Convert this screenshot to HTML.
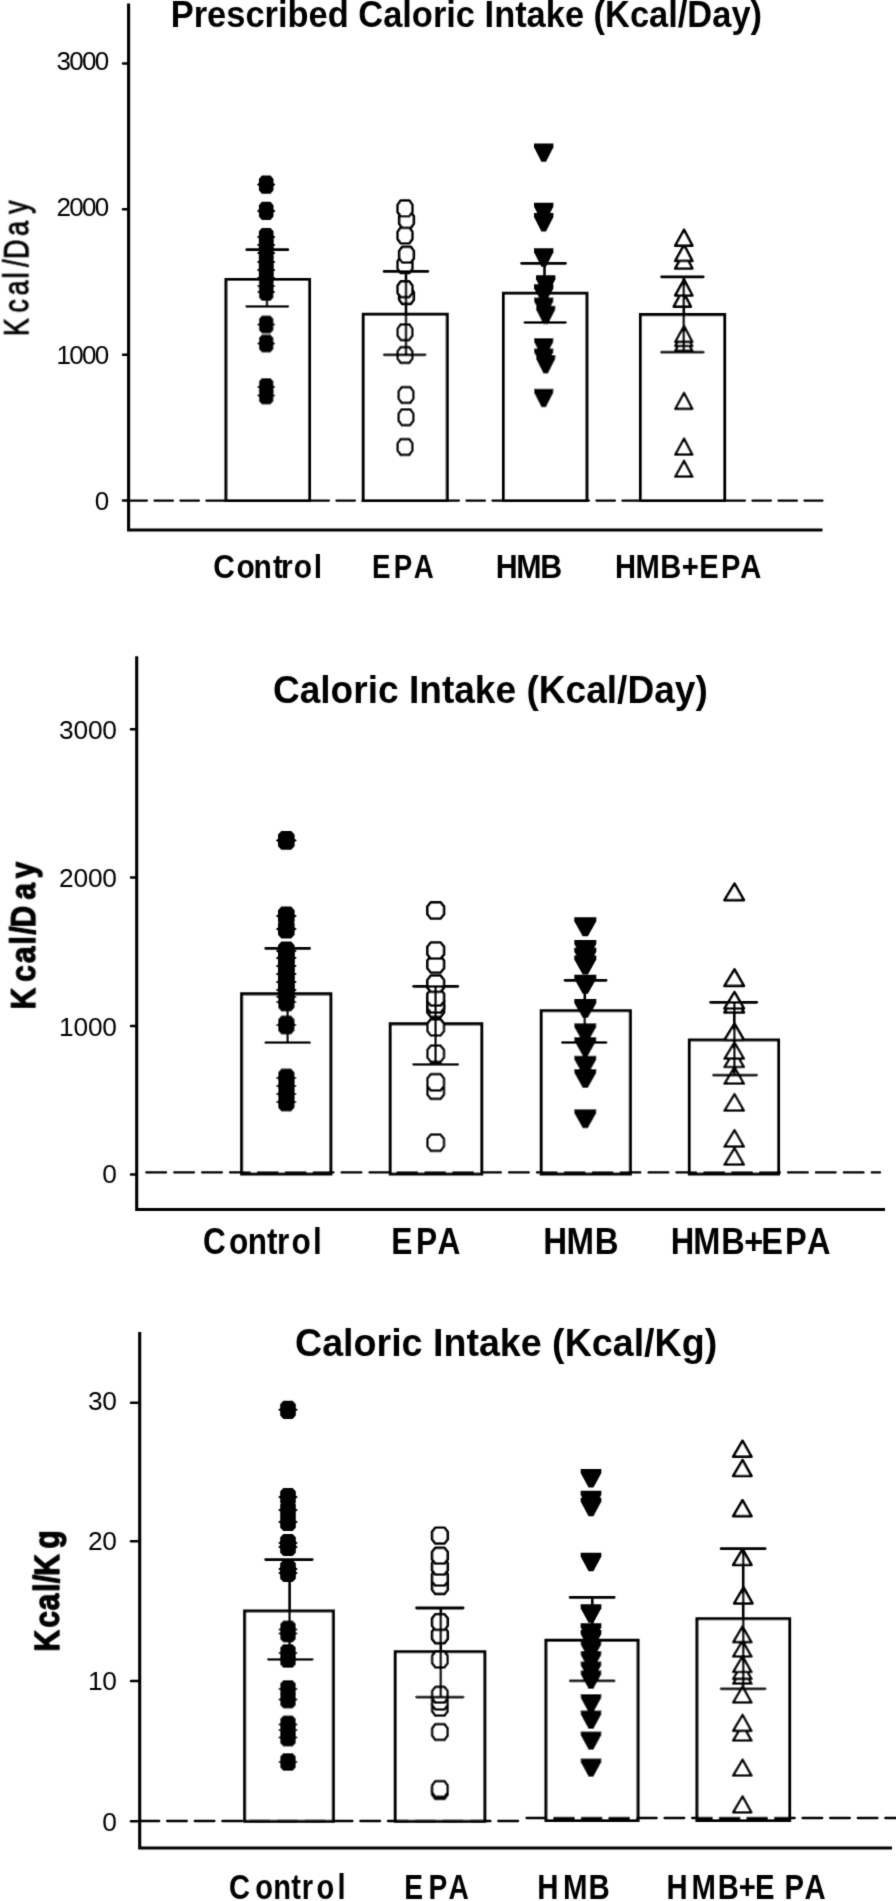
<!DOCTYPE html>
<html lang="en">
<head>
<meta charset="utf-8">
<title>Caloric intake charts</title>
<style>
html,body{margin:0;padding:0;background:#fff;}
body{width:896px;height:1901px;overflow:hidden;}
svg{display:block;}
svg text{font-family:'Liberation Sans', Arial, Helvetica, sans-serif;fill:#000;}
</style>
</head>
<body>
<svg width="896" height="1901" viewBox="0 0 896 1901">
<defs><filter id="soft" x="0" y="0" width="896" height="1901" filterUnits="userSpaceOnUse"><feConvolveMatrix order="3" kernelMatrix="0.0169 0.0962 0.0169 0.0962 0.5476 0.0962 0.0169 0.0962 0.0169" edgeMode="duplicate" preserveAlpha="false"/></filter></defs>
<rect width="896" height="1901" fill="#fff"/>
<g filter="url(#soft)">
<path d="M226.00 500.50V279.50H309.50V500.50Z" fill="#fff" stroke="#000" stroke-width="3.1" stroke-linejoin="miter"/>
<path d="M363.30 500.50V314.20H447.20V500.50Z" fill="#fff" stroke="#000" stroke-width="3.1" stroke-linejoin="miter"/>
<path d="M503.50 500.50V293.30H586.90V500.50Z" fill="#fff" stroke="#000" stroke-width="3.1" stroke-linejoin="miter"/>
<path d="M640.50 500.50V314.60H724.60V500.50Z" fill="#fff" stroke="#000" stroke-width="3.1" stroke-linejoin="miter"/>
<line x1="128.45" y1="500.60" x2="822.50" y2="500.60" stroke="#000" stroke-width="2.3" stroke-dasharray="18.50 7.50" stroke-linecap="round"/>
<polygon points="261.89,175.48 270.51,175.48 273.50,178.97 273.50,183.05 275.53,184.60 273.50,186.15 273.50,190.23 270.51,193.72 261.89,193.72 258.90,190.23 258.90,186.15 256.87,184.60 258.90,183.05 258.90,178.97" fill="#000"/>
<polygon points="261.89,201.78 270.51,201.78 273.50,205.27 273.50,209.35 275.53,210.90 273.50,212.45 273.50,216.53 270.51,220.02 261.89,220.02 258.90,216.53 258.90,212.45 256.87,210.90 258.90,209.35 258.90,205.27" fill="#000"/>
<polygon points="261.89,227.88 270.51,227.88 273.50,231.37 273.50,235.45 275.53,237.00 273.50,238.55 273.50,242.63 270.51,246.12 261.89,246.12 258.90,242.63 258.90,238.55 256.87,237.00 258.90,235.45 258.90,231.37" fill="#000"/>
<polygon points="261.89,235.88 270.51,235.88 273.50,239.37 273.50,243.45 275.53,245.00 273.50,246.55 273.50,250.63 270.51,254.12 261.89,254.12 258.90,250.63 258.90,246.55 256.87,245.00 258.90,243.45 258.90,239.37" fill="#000"/>
<polygon points="261.89,243.88 270.51,243.88 273.50,247.37 273.50,251.45 275.53,253.00 273.50,254.55 273.50,258.63 270.51,262.12 261.89,262.12 258.90,258.63 258.90,254.55 256.87,253.00 258.90,251.45 258.90,247.37" fill="#000"/>
<polygon points="261.89,252.88 270.51,252.88 273.50,256.37 273.50,260.45 275.53,262.00 273.50,263.55 273.50,267.63 270.51,271.12 261.89,271.12 258.90,267.63 258.90,263.55 256.87,262.00 258.90,260.45 258.90,256.37" fill="#000"/>
<polygon points="261.89,260.88 270.51,260.88 273.50,264.37 273.50,268.45 275.53,270.00 273.50,271.55 273.50,275.63 270.51,279.12 261.89,279.12 258.90,275.63 258.90,271.55 256.87,270.00 258.90,268.45 258.90,264.37" fill="#000"/>
<polygon points="261.89,268.88 270.51,268.88 273.50,272.37 273.50,276.45 275.53,278.00 273.50,279.55 273.50,283.63 270.51,287.12 261.89,287.12 258.90,283.63 258.90,279.55 256.87,278.00 258.90,276.45 258.90,272.37" fill="#000"/>
<polygon points="261.89,276.88 270.51,276.88 273.50,280.37 273.50,284.45 275.53,286.00 273.50,287.55 273.50,291.63 270.51,295.12 261.89,295.12 258.90,291.63 258.90,287.55 256.87,286.00 258.90,284.45 258.90,280.37" fill="#000"/>
<polygon points="261.89,282.88 270.51,282.88 273.50,286.37 273.50,290.45 275.53,292.00 273.50,293.55 273.50,297.63 270.51,301.12 261.89,301.12 258.90,297.63 258.90,293.55 256.87,292.00 258.90,290.45 258.90,286.37" fill="#000"/>
<polygon points="261.89,315.38 270.51,315.38 273.50,318.87 273.50,322.95 275.53,324.50 273.50,326.05 273.50,330.13 270.51,333.62 261.89,333.62 258.90,330.13 258.90,326.05 256.87,324.50 258.90,322.95 258.90,318.87" fill="#000"/>
<polygon points="261.89,334.38 270.51,334.38 273.50,337.87 273.50,341.95 275.53,343.50 273.50,345.05 273.50,349.13 270.51,352.62 261.89,352.62 258.90,349.13 258.90,345.05 256.87,343.50 258.90,341.95 258.90,337.87" fill="#000"/>
<polygon points="261.89,377.88 270.51,377.88 273.50,381.37 273.50,385.45 275.53,387.00 273.50,388.55 273.50,392.63 270.51,396.12 261.89,396.12 258.90,392.63 258.90,388.55 256.87,387.00 258.90,385.45 258.90,381.37" fill="#000"/>
<polygon points="261.89,386.38 270.51,386.38 273.50,389.87 273.50,393.95 275.53,395.50 273.50,397.05 273.50,401.13 270.51,404.62 261.89,404.62 258.90,401.13 258.90,397.05 256.87,395.50 258.90,393.95 258.90,389.87" fill="#000"/>
<polygon points="400.73,439.14 409.27,439.14 412.30,443.31 412.30,450.69 409.27,454.86 400.73,454.86 397.70,450.69 397.70,443.31" fill="#fff" stroke="#000" stroke-width="2.7" stroke-linejoin="round"/>
<polygon points="401.73,409.34 410.27,409.34 413.30,413.51 413.30,420.89 410.27,425.06 401.73,425.06 398.70,420.89 398.70,413.51" fill="#fff" stroke="#000" stroke-width="2.7" stroke-linejoin="round"/>
<polygon points="401.73,387.14 410.27,387.14 413.30,391.31 413.30,398.69 410.27,402.86 401.73,402.86 398.70,398.69 398.70,391.31" fill="#fff" stroke="#000" stroke-width="2.7" stroke-linejoin="round"/>
<polygon points="400.73,347.14 409.27,347.14 412.30,351.31 412.30,358.69 409.27,362.86 400.73,362.86 397.70,358.69 397.70,351.31" fill="#fff" stroke="#000" stroke-width="2.7" stroke-linejoin="round"/>
<polygon points="400.73,324.34 409.27,324.34 412.30,328.51 412.30,335.89 409.27,340.06 400.73,340.06 397.70,335.89 397.70,328.51" fill="#fff" stroke="#000" stroke-width="2.7" stroke-linejoin="round"/>
<polygon points="402.23,288.14 410.77,288.14 413.80,292.31 413.80,299.69 410.77,303.86 402.23,303.86 399.20,299.69 399.20,292.31" fill="#fff" stroke="#000" stroke-width="2.7" stroke-linejoin="round"/>
<polygon points="400.73,281.44 409.27,281.44 412.30,285.61 412.30,292.99 409.27,297.16 400.73,297.16 397.70,292.99 397.70,285.61" fill="#fff" stroke="#000" stroke-width="2.7" stroke-linejoin="round"/>
<polygon points="400.73,257.14 409.27,257.14 412.30,261.31 412.30,268.69 409.27,272.86 400.73,272.86 397.70,268.69 397.70,261.31" fill="#fff" stroke="#000" stroke-width="2.7" stroke-linejoin="round"/>
<polygon points="402.23,246.84 410.77,246.84 413.80,251.01 413.80,258.39 410.77,262.56 402.23,262.56 399.20,258.39 399.20,251.01" fill="#fff" stroke="#000" stroke-width="2.7" stroke-linejoin="round"/>
<polygon points="400.73,227.54 409.27,227.54 412.30,231.71 412.30,239.09 409.27,243.26 400.73,243.26 397.70,239.09 397.70,231.71" fill="#fff" stroke="#000" stroke-width="2.7" stroke-linejoin="round"/>
<polygon points="402.23,212.14 410.77,212.14 413.80,216.31 413.80,223.69 410.77,227.86 402.23,227.86 399.20,223.69 399.20,216.31" fill="#fff" stroke="#000" stroke-width="2.7" stroke-linejoin="round"/>
<polygon points="400.73,200.54 409.27,200.54 412.30,204.71 412.30,212.09 409.27,216.26 400.73,216.26 397.70,212.09 397.70,204.71" fill="#fff" stroke="#000" stroke-width="2.7" stroke-linejoin="round"/>
<polygon points="534.02,143.40 553.38,143.40 553.38,147.28 545.99,161.83 541.41,161.83 534.02,147.28" fill="#000"/>
<polygon points="534.02,202.70 553.38,202.70 553.38,206.58 545.99,221.13 541.41,221.13 534.02,206.58" fill="#000"/>
<polygon points="534.02,213.00 553.38,213.00 553.38,216.88 545.99,231.43 541.41,231.43 534.02,216.88" fill="#000"/>
<polygon points="534.02,248.30 553.38,248.30 553.38,252.18 545.99,266.73 541.41,266.73 534.02,252.18" fill="#000"/>
<polygon points="536.02,275.30 555.38,275.30 555.38,279.18 547.99,293.73 543.41,293.73 536.02,279.18" fill="#000"/>
<polygon points="534.02,284.30 553.38,284.30 553.38,288.18 545.99,302.73 541.41,302.73 534.02,288.18" fill="#000"/>
<polygon points="534.02,297.50 553.38,297.50 553.38,301.38 545.99,315.93 541.41,315.93 534.02,301.38" fill="#000"/>
<polygon points="536.02,305.80 555.38,305.80 555.38,309.68 547.99,324.23 543.41,324.23 536.02,309.68" fill="#000"/>
<polygon points="534.02,338.00 553.38,338.00 553.38,341.88 545.99,356.43 541.41,356.43 534.02,341.88" fill="#000"/>
<polygon points="534.02,348.40 553.38,348.40 553.38,352.28 545.99,366.83 541.41,366.83 534.02,352.28" fill="#000"/>
<polygon points="536.02,355.00 555.38,355.00 555.38,358.88 547.99,373.43 543.41,373.43 536.02,358.88" fill="#000"/>
<polygon points="534.02,388.80 553.38,388.80 553.38,392.68 545.99,407.23 541.41,407.23 534.02,392.68" fill="#000"/>
<polygon points="675.26,476.70 692.34,476.70 684.06,460.79" fill="#fff" stroke="#000" stroke-width="2.7" stroke-linejoin="round"/>
<polygon points="675.26,454.60 692.34,454.60 684.06,438.69" fill="#fff" stroke="#000" stroke-width="2.7" stroke-linejoin="round"/>
<polygon points="675.26,408.80 692.34,408.80 684.06,392.89" fill="#fff" stroke="#000" stroke-width="2.7" stroke-linejoin="round"/>
<polygon points="675.26,350.80 692.34,350.80 684.06,334.89" fill="#fff" stroke="#000" stroke-width="2.7" stroke-linejoin="round"/>
<polygon points="675.26,346.00 692.34,346.00 684.06,330.09" fill="#fff" stroke="#000" stroke-width="2.7" stroke-linejoin="round"/>
<polygon points="675.26,341.80 692.34,341.80 684.06,325.89" fill="#fff" stroke="#000" stroke-width="2.7" stroke-linejoin="round"/>
<polygon points="673.76,306.60 690.84,306.60 682.56,290.69" fill="#fff" stroke="#000" stroke-width="2.7" stroke-linejoin="round"/>
<polygon points="675.26,295.50 692.34,295.50 684.06,279.59" fill="#fff" stroke="#000" stroke-width="2.7" stroke-linejoin="round"/>
<polygon points="675.26,268.50 692.34,268.50 684.06,252.59" fill="#fff" stroke="#000" stroke-width="2.7" stroke-linejoin="round"/>
<polygon points="675.26,260.90 692.34,260.90 684.06,244.99" fill="#fff" stroke="#000" stroke-width="2.7" stroke-linejoin="round"/>
<polygon points="675.26,245.70 692.34,245.70 684.06,229.79" fill="#fff" stroke="#000" stroke-width="2.7" stroke-linejoin="round"/>
<line x1="267.00" y1="249.70" x2="267.00" y2="306.40" stroke="#000" stroke-width="2.6" />
<line x1="246.80" y1="249.70" x2="287.80" y2="249.70" stroke="#000" stroke-width="2.8" stroke-linecap="round"/>
<line x1="246.80" y1="306.40" x2="287.80" y2="306.40" stroke="#000" stroke-width="2.8" stroke-linecap="round"/>
<line x1="406.00" y1="271.40" x2="406.00" y2="354.80" stroke="#000" stroke-width="2.6" />
<line x1="384.20" y1="271.40" x2="427.80" y2="271.40" stroke="#000" stroke-width="2.8" stroke-linecap="round"/>
<line x1="384.20" y1="354.80" x2="425.10" y2="354.80" stroke="#000" stroke-width="2.8" stroke-linecap="round"/>
<line x1="544.50" y1="263.30" x2="544.50" y2="322.50" stroke="#000" stroke-width="2.6" />
<line x1="521.70" y1="263.30" x2="565.40" y2="263.30" stroke="#000" stroke-width="2.8" stroke-linecap="round"/>
<line x1="524.90" y1="322.50" x2="565.40" y2="322.50" stroke="#000" stroke-width="2.8" stroke-linecap="round"/>
<line x1="683.80" y1="276.80" x2="683.80" y2="352.20" stroke="#000" stroke-width="2.6" />
<line x1="661.60" y1="276.80" x2="703.20" y2="276.80" stroke="#000" stroke-width="2.8" stroke-linecap="round"/>
<line x1="661.60" y1="352.20" x2="703.20" y2="352.20" stroke="#000" stroke-width="2.8" stroke-linecap="round"/>
<path d="M128.60 3.50V530.00H822.50" fill="none" stroke="#000" stroke-width="3.1"/>
<line x1="123.00" y1="63.50" x2="128.60" y2="63.50" stroke="#000" stroke-width="2.5" stroke-linecap="round"/>
<text x="107.50" y="70.40" font-size="26" text-anchor="end" letter-spacing="-1.7">3000</text>
<line x1="123.00" y1="209.20" x2="128.60" y2="209.20" stroke="#000" stroke-width="2.5" stroke-linecap="round"/>
<text x="107.50" y="216.10" font-size="26" text-anchor="end" letter-spacing="-1.7">2000</text>
<line x1="123.00" y1="354.80" x2="128.60" y2="354.80" stroke="#000" stroke-width="2.5" stroke-linecap="round"/>
<text x="107.50" y="364.10" font-size="26" text-anchor="end" letter-spacing="-1.7">1000</text>
<line x1="123.00" y1="500.50" x2="128.60" y2="500.50" stroke="#000" stroke-width="2.5" stroke-linecap="round"/>
<text x="107.50" y="509.50" font-size="26" text-anchor="end" letter-spacing="-1.7">0</text>
<text x="170.75" y="27.00" font-size="37" font-weight="bold" textLength="591.25" lengthAdjust="spacingAndGlyphs" >Prescribed Caloric Intake (Kcal/Day)</text>
<text transform="translate(28.30,333.60) rotate(-90) scale(0.7526,1)" x="-3.33 27.98 50.95 73.30 88.60 99.30 129.74 159.14" y="0" font-size="35.5" stroke="#000" stroke-width="0.9">Kcal/Day</text>
<text transform="translate(0,577.70) scale(0.9085,1)" x="234.64 260.26 278.98 300.46 309.42 323.39 345.30" y="0" font-size="33" font-weight="bold" >Control</text>
<text transform="translate(0,577.70) scale(0.8396,1)" x="443.11 468.99 492.82" y="0" font-size="33" font-weight="bold" >EPA</text>
<text transform="translate(0,577.70) scale(0.9214,1)" x="538.16 560.24 586.47" y="0" font-size="33" font-weight="bold" >HMB</text>
<text transform="translate(0,577.70) scale(0.8830,1)" x="696.37 719.78 747.60 772.21 791.95 816.50 838.24" y="0" font-size="33" font-weight="bold" >HMB+EPA</text>
<path d="M241.70 1174.00V993.90H330.80V1174.00Z" fill="#fff" stroke="#000" stroke-width="3.1" stroke-linejoin="miter"/>
<path d="M390.30 1174.00V1023.90H481.70V1174.00Z" fill="#fff" stroke="#000" stroke-width="3.1" stroke-linejoin="miter"/>
<path d="M541.30 1174.00V1010.70H630.30V1174.00Z" fill="#fff" stroke="#000" stroke-width="3.1" stroke-linejoin="miter"/>
<path d="M689.40 1174.00V1040.00H778.50V1174.00Z" fill="#fff" stroke="#000" stroke-width="3.1" stroke-linejoin="miter"/>
<line x1="146.35" y1="1172.40" x2="880.00" y2="1172.40" stroke="#000" stroke-width="2.3" stroke-dasharray="19.70 8.20" stroke-linecap="round"/>
<polygon points="281.40,831.00 291.20,831.00 294.60,834.60 294.60,838.80 296.90,840.40 294.60,842.00 294.60,846.20 291.20,849.80 281.40,849.80 278.00,846.20 278.00,842.00 275.70,840.40 278.00,838.80 278.00,834.60" fill="#000"/>
<polygon points="281.40,906.60 291.20,906.60 294.60,910.20 294.60,914.40 296.90,916.00 294.60,917.60 294.60,921.80 291.20,925.40 281.40,925.40 278.00,921.80 278.00,917.60 275.70,916.00 278.00,914.40 278.00,910.20" fill="#000"/>
<polygon points="281.40,919.60 291.20,919.60 294.60,923.20 294.60,927.40 296.90,929.00 294.60,930.60 294.60,934.80 291.20,938.40 281.40,938.40 278.00,934.80 278.00,930.60 275.70,929.00 278.00,927.40 278.00,923.20" fill="#000"/>
<polygon points="281.40,941.60 291.20,941.60 294.60,945.20 294.60,949.40 296.90,951.00 294.60,952.60 294.60,956.80 291.20,960.40 281.40,960.40 278.00,956.80 278.00,952.60 275.70,951.00 278.00,949.40 278.00,945.20" fill="#000"/>
<polygon points="281.40,948.60 291.20,948.60 294.60,952.20 294.60,956.40 296.90,958.00 294.60,959.60 294.60,963.80 291.20,967.40 281.40,967.40 278.00,963.80 278.00,959.60 275.70,958.00 278.00,956.40 278.00,952.20" fill="#000"/>
<polygon points="281.40,956.60 291.20,956.60 294.60,960.20 294.60,964.40 296.90,966.00 294.60,967.60 294.60,971.80 291.20,975.40 281.40,975.40 278.00,971.80 278.00,967.60 275.70,966.00 278.00,964.40 278.00,960.20" fill="#000"/>
<polygon points="281.40,964.60 291.20,964.60 294.60,968.20 294.60,972.40 296.90,974.00 294.60,975.60 294.60,979.80 291.20,983.40 281.40,983.40 278.00,979.80 278.00,975.60 275.70,974.00 278.00,972.40 278.00,968.20" fill="#000"/>
<polygon points="281.40,972.60 291.20,972.60 294.60,976.20 294.60,980.40 296.90,982.00 294.60,983.60 294.60,987.80 291.20,991.40 281.40,991.40 278.00,987.80 278.00,983.60 275.70,982.00 278.00,980.40 278.00,976.20" fill="#000"/>
<polygon points="281.40,980.60 291.20,980.60 294.60,984.20 294.60,988.40 296.90,990.00 294.60,991.60 294.60,995.80 291.20,999.40 281.40,999.40 278.00,995.80 278.00,991.60 275.70,990.00 278.00,988.40 278.00,984.20" fill="#000"/>
<polygon points="281.40,987.60 291.20,987.60 294.60,991.20 294.60,995.40 296.90,997.00 294.60,998.60 294.60,1002.80 291.20,1006.40 281.40,1006.40 278.00,1002.80 278.00,998.60 275.70,997.00 278.00,995.40 278.00,991.20" fill="#000"/>
<polygon points="281.40,992.60 291.20,992.60 294.60,996.20 294.60,1000.40 296.90,1002.00 294.60,1003.60 294.60,1007.80 291.20,1011.40 281.40,1011.40 278.00,1007.80 278.00,1003.60 275.70,1002.00 278.00,1000.40 278.00,996.20" fill="#000"/>
<polygon points="281.40,1015.60 291.20,1015.60 294.60,1019.20 294.60,1023.40 296.90,1025.00 294.60,1026.60 294.60,1030.80 291.20,1034.40 281.40,1034.40 278.00,1030.80 278.00,1026.60 275.70,1025.00 278.00,1023.40 278.00,1019.20" fill="#000"/>
<polygon points="281.40,1068.60 291.20,1068.60 294.60,1072.20 294.60,1076.40 296.90,1078.00 294.60,1079.60 294.60,1083.80 291.20,1087.40 281.40,1087.40 278.00,1083.80 278.00,1079.60 275.70,1078.00 278.00,1076.40 278.00,1072.20" fill="#000"/>
<polygon points="281.40,1076.60 291.20,1076.60 294.60,1080.20 294.60,1084.40 296.90,1086.00 294.60,1087.60 294.60,1091.80 291.20,1095.40 281.40,1095.40 278.00,1091.80 278.00,1087.60 275.70,1086.00 278.00,1084.40 278.00,1080.20" fill="#000"/>
<polygon points="281.40,1084.60 291.20,1084.60 294.60,1088.20 294.60,1092.40 296.90,1094.00 294.60,1095.60 294.60,1099.80 291.20,1103.40 281.40,1103.40 278.00,1099.80 278.00,1095.60 275.70,1094.00 278.00,1092.40 278.00,1088.20" fill="#000"/>
<polygon points="281.40,1092.60 291.20,1092.60 294.60,1096.20 294.60,1100.40 296.90,1102.00 294.60,1103.60 294.60,1107.80 291.20,1111.40 281.40,1111.40 278.00,1107.80 278.00,1103.60 275.70,1102.00 278.00,1100.40 278.00,1096.20" fill="#000"/>
<polygon points="430.85,1134.60 440.55,1134.60 444.00,1138.90 444.00,1146.50 440.55,1150.80 430.85,1150.80 427.40,1146.50 427.40,1138.90" fill="#fff" stroke="#000" stroke-width="2.7" stroke-linejoin="round"/>
<polygon points="430.85,1082.70 440.55,1082.70 444.00,1087.00 444.00,1094.60 440.55,1098.90 430.85,1098.90 427.40,1094.60 427.40,1087.00" fill="#fff" stroke="#000" stroke-width="2.7" stroke-linejoin="round"/>
<polygon points="430.85,1074.10 440.55,1074.10 444.00,1078.40 444.00,1086.00 440.55,1090.30 430.85,1090.30 427.40,1086.00 427.40,1078.40" fill="#fff" stroke="#000" stroke-width="2.7" stroke-linejoin="round"/>
<polygon points="430.85,1045.60 440.55,1045.60 444.00,1049.90 444.00,1057.50 440.55,1061.80 430.85,1061.80 427.40,1057.50 427.40,1049.90" fill="#fff" stroke="#000" stroke-width="2.7" stroke-linejoin="round"/>
<polygon points="430.85,1019.30 440.55,1019.30 444.00,1023.60 444.00,1031.20 440.55,1035.50 430.85,1035.50 427.40,1031.20 427.40,1023.60" fill="#fff" stroke="#000" stroke-width="2.7" stroke-linejoin="round"/>
<polygon points="430.85,1000.60 440.55,1000.60 444.00,1004.90 444.00,1012.50 440.55,1016.80 430.85,1016.80 427.40,1012.50 427.40,1004.90" fill="#fff" stroke="#000" stroke-width="2.7" stroke-linejoin="round"/>
<polygon points="430.85,996.40 440.55,996.40 444.00,1000.70 444.00,1008.30 440.55,1012.60 430.85,1012.60 427.40,1008.30 427.40,1000.70" fill="#fff" stroke="#000" stroke-width="2.7" stroke-linejoin="round"/>
<polygon points="430.85,989.50 440.55,989.50 444.00,993.80 444.00,1001.40 440.55,1005.70 430.85,1005.70 427.40,1001.40 427.40,993.80" fill="#fff" stroke="#000" stroke-width="2.7" stroke-linejoin="round"/>
<polygon points="430.85,975.70 440.55,975.70 444.00,980.00 444.00,987.60 440.55,991.90 430.85,991.90 427.40,987.60 427.40,980.00" fill="#fff" stroke="#000" stroke-width="2.7" stroke-linejoin="round"/>
<polygon points="430.85,956.30 440.55,956.30 444.00,960.60 444.00,968.20 440.55,972.50 430.85,972.50 427.40,968.20 427.40,960.60" fill="#fff" stroke="#000" stroke-width="2.7" stroke-linejoin="round"/>
<polygon points="430.85,942.50 440.55,942.50 444.00,946.80 444.00,954.40 440.55,958.70 430.85,958.70 427.40,954.40 427.40,946.80" fill="#fff" stroke="#000" stroke-width="2.7" stroke-linejoin="round"/>
<polygon points="430.85,902.30 440.55,902.30 444.00,906.60 444.00,914.20 440.55,918.50 430.85,918.50 427.40,914.20 427.40,906.60" fill="#fff" stroke="#000" stroke-width="2.7" stroke-linejoin="round"/>
<polygon points="574.30,917.30 596.30,917.30 596.30,921.30 587.90,936.30 582.70,936.30 574.30,921.30" fill="#000"/>
<polygon points="574.30,940.10 596.30,940.10 596.30,944.10 587.90,959.10 582.70,959.10 574.30,944.10" fill="#000"/>
<polygon points="574.30,947.70 596.30,947.70 596.30,951.70 587.90,966.70 582.70,966.70 574.30,951.70" fill="#000"/>
<polygon points="574.30,955.40 596.30,955.40 596.30,959.40 587.90,974.40 582.70,974.40 574.30,959.40" fill="#000"/>
<polygon points="574.30,974.70 596.30,974.70 596.30,978.70 587.90,993.70 582.70,993.70 574.30,978.70" fill="#000"/>
<polygon points="574.30,999.00 596.30,999.00 596.30,1003.00 587.90,1018.00 582.70,1018.00 574.30,1003.00" fill="#000"/>
<polygon points="574.30,1023.20 596.30,1023.20 596.30,1027.20 587.90,1042.20 582.70,1042.20 574.30,1027.20" fill="#000"/>
<polygon points="574.30,1037.00 596.30,1037.00 596.30,1041.00 587.90,1056.00 582.70,1056.00 574.30,1041.00" fill="#000"/>
<polygon points="574.30,1055.80 596.30,1055.80 596.30,1059.80 587.90,1074.80 582.70,1074.80 574.30,1059.80" fill="#000"/>
<polygon points="574.30,1068.90 596.30,1068.90 596.30,1072.90 587.90,1087.90 582.70,1087.90 574.30,1072.90" fill="#000"/>
<polygon points="574.30,1109.20 596.30,1109.20 596.30,1113.20 587.90,1128.20 582.70,1128.20 574.30,1113.20" fill="#000"/>
<polygon points="724.50,1164.60 743.90,1164.60 734.50,1148.20" fill="#fff" stroke="#000" stroke-width="2.7" stroke-linejoin="round"/>
<polygon points="724.50,1146.60 743.90,1146.60 734.50,1130.20" fill="#fff" stroke="#000" stroke-width="2.7" stroke-linejoin="round"/>
<polygon points="724.50,1110.60 743.90,1110.60 734.50,1094.20" fill="#fff" stroke="#000" stroke-width="2.7" stroke-linejoin="round"/>
<polygon points="724.50,1083.70 743.90,1083.70 734.50,1067.30" fill="#fff" stroke="#000" stroke-width="2.7" stroke-linejoin="round"/>
<polygon points="724.50,1067.00 743.90,1067.00 734.50,1050.60" fill="#fff" stroke="#000" stroke-width="2.7" stroke-linejoin="round"/>
<polygon points="724.50,1058.70 743.90,1058.70 734.50,1042.30" fill="#fff" stroke="#000" stroke-width="2.7" stroke-linejoin="round"/>
<polygon points="724.50,1040.00 743.90,1040.00 734.50,1023.60" fill="#fff" stroke="#000" stroke-width="2.7" stroke-linejoin="round"/>
<polygon points="724.50,1012.50 743.90,1012.50 734.50,996.10" fill="#fff" stroke="#000" stroke-width="2.7" stroke-linejoin="round"/>
<polygon points="724.50,1008.50 743.90,1008.50 734.50,992.10" fill="#fff" stroke="#000" stroke-width="2.7" stroke-linejoin="round"/>
<polygon points="724.50,985.90 743.90,985.90 734.50,969.50" fill="#fff" stroke="#000" stroke-width="2.7" stroke-linejoin="round"/>
<polygon points="724.50,900.10 743.90,900.10 734.50,883.70" fill="#fff" stroke="#000" stroke-width="2.7" stroke-linejoin="round"/>
<line x1="287.70" y1="948.40" x2="287.70" y2="1042.70" stroke="#000" stroke-width="2.6" />
<line x1="265.80" y1="948.40" x2="309.50" y2="948.40" stroke="#000" stroke-width="2.8" stroke-linecap="round"/>
<line x1="265.80" y1="1042.70" x2="309.50" y2="1042.70" stroke="#000" stroke-width="2.8" stroke-linecap="round"/>
<line x1="435.60" y1="986.30" x2="435.60" y2="1064.40" stroke="#000" stroke-width="2.6" />
<line x1="413.70" y1="986.30" x2="457.70" y2="986.30" stroke="#000" stroke-width="2.8" stroke-linecap="round"/>
<line x1="413.70" y1="1064.40" x2="457.70" y2="1064.40" stroke="#000" stroke-width="2.8" stroke-linecap="round"/>
<line x1="584.80" y1="980.30" x2="584.80" y2="1042.50" stroke="#000" stroke-width="2.6" />
<line x1="565.10" y1="980.30" x2="606.00" y2="980.30" stroke="#000" stroke-width="2.8" stroke-linecap="round"/>
<line x1="562.40" y1="1042.50" x2="606.00" y2="1042.50" stroke="#000" stroke-width="2.8" stroke-linecap="round"/>
<line x1="734.30" y1="1002.30" x2="734.30" y2="1075.10" stroke="#000" stroke-width="2.6" />
<line x1="710.70" y1="1002.30" x2="756.70" y2="1002.30" stroke="#000" stroke-width="2.8" stroke-linecap="round"/>
<line x1="713.50" y1="1075.10" x2="756.70" y2="1075.10" stroke="#000" stroke-width="2.8" stroke-linecap="round"/>
<path d="M136.70 656.25V1209.50H885.00" fill="none" stroke="#000" stroke-width="3.1"/>
<line x1="131.00" y1="729.25" x2="136.70" y2="729.25" stroke="#000" stroke-width="2.5" stroke-linecap="round"/>
<text x="116.80" y="739.05" font-size="26.3" text-anchor="end" letter-spacing="-0.2">3000</text>
<line x1="131.00" y1="877.60" x2="136.70" y2="877.60" stroke="#000" stroke-width="2.5" stroke-linecap="round"/>
<text x="116.80" y="887.20" font-size="26.3" text-anchor="end" letter-spacing="-0.2">2000</text>
<line x1="131.00" y1="1026.00" x2="136.70" y2="1026.00" stroke="#000" stroke-width="2.5" stroke-linecap="round"/>
<text x="116.80" y="1036.40" font-size="26.3" text-anchor="end" letter-spacing="-0.2">1000</text>
<line x1="131.00" y1="1174.40" x2="136.70" y2="1174.40" stroke="#000" stroke-width="2.5" stroke-linecap="round"/>
<text x="116.80" y="1182.80" font-size="26.3" text-anchor="end" letter-spacing="-0.2">0</text>
<text x="272.90" y="703.20" font-size="39.5" font-weight="bold" textLength="434.90" lengthAdjust="spacingAndGlyphs" >Caloric Intake (Kcal/Day)</text>
<text transform="translate(35.20,1008.30) rotate(-90) scale(0.8389,1)" x="-1.07 31.50 53.98 75.85 87.81 96.53 129.68 154.84" y="0" font-size="35.5" font-weight="bold" stroke="#000" stroke-width="1.2" stroke-linejoin="round">Kcal/Day</text>
<text transform="translate(0,1254.20) scale(0.8569,1)" x="236.85 267.39 289.22 311.72 323.40 340.33 365.15" y="0" font-size="36.8" font-weight="bold" >Control</text>
<text transform="translate(0,1254.20) scale(0.8615,1)" x="454.07 483.00 507.97" y="0" font-size="36.8" font-weight="bold" >EPA</text>
<text transform="translate(0,1254.20) scale(0.8977,1)" x="605.09 631.05 662.67" y="0" font-size="36.8" font-weight="bold" >HMB</text>
<text transform="translate(0,1254.20) scale(0.8849,1)" x="758.07 783.35 815.01 840.95 860.38 887.13 911.94" y="0" font-size="36.8" font-weight="bold" >HMB+EPA</text>
<path d="M244.70 1821.20V1611.00H333.30V1821.20Z" fill="#fff" stroke="#000" stroke-width="3.1" stroke-linejoin="miter"/>
<path d="M395.30 1821.20V1651.80H484.80V1821.20Z" fill="#fff" stroke="#000" stroke-width="3.1" stroke-linejoin="miter"/>
<path d="M546.00 1820.50V1640.40H638.00V1820.50Z" fill="#fff" stroke="#000" stroke-width="3.1" stroke-linejoin="miter"/>
<path d="M697.00 1820.50V1618.80H789.60V1820.50Z" fill="#fff" stroke="#000" stroke-width="3.1" stroke-linejoin="miter"/>
<line x1="139.55" y1="1821.00" x2="525.00" y2="1821.00" stroke="#000" stroke-width="2.3" stroke-dasharray="19.70 7.90" stroke-linecap="round"/>
<line x1="526.55" y1="1818.00" x2="896.00" y2="1818.00" stroke="#000" stroke-width="2.3" stroke-dasharray="19.70 7.90" stroke-linecap="round"/>
<polygon points="283.39,1400.68 292.61,1400.68 295.80,1404.17 295.80,1408.25 297.96,1409.80 295.80,1411.35 295.80,1415.43 292.61,1418.92 283.39,1418.92 280.20,1415.43 280.20,1411.35 278.04,1409.80 280.20,1408.25 280.20,1404.17" fill="#000"/>
<polygon points="283.39,1487.88 292.61,1487.88 295.80,1491.37 295.80,1495.45 297.96,1497.00 295.80,1498.55 295.80,1502.63 292.61,1506.12 283.39,1506.12 280.20,1502.63 280.20,1498.55 278.04,1497.00 280.20,1495.45 280.20,1491.37" fill="#000"/>
<polygon points="283.39,1500.88 292.61,1500.88 295.80,1504.37 295.80,1508.45 297.96,1510.00 295.80,1511.55 295.80,1515.63 292.61,1519.12 283.39,1519.12 280.20,1515.63 280.20,1511.55 278.04,1510.00 280.20,1508.45 280.20,1504.37" fill="#000"/>
<polygon points="283.39,1512.88 292.61,1512.88 295.80,1516.37 295.80,1520.45 297.96,1522.00 295.80,1523.55 295.80,1527.63 292.61,1531.12 283.39,1531.12 280.20,1527.63 280.20,1523.55 278.04,1522.00 280.20,1520.45 280.20,1516.37" fill="#000"/>
<polygon points="283.39,1533.88 292.61,1533.88 295.80,1537.37 295.80,1541.45 297.96,1543.00 295.80,1544.55 295.80,1548.63 292.61,1552.12 283.39,1552.12 280.20,1548.63 280.20,1544.55 278.04,1543.00 280.20,1541.45 280.20,1537.37" fill="#000"/>
<polygon points="283.39,1537.88 292.61,1537.88 295.80,1541.37 295.80,1545.45 297.96,1547.00 295.80,1548.55 295.80,1552.63 292.61,1556.12 283.39,1556.12 280.20,1552.63 280.20,1548.55 278.04,1547.00 280.20,1545.45 280.20,1541.37" fill="#000"/>
<polygon points="283.39,1559.88 292.61,1559.88 295.80,1563.37 295.80,1567.45 297.96,1569.00 295.80,1570.55 295.80,1574.63 292.61,1578.12 283.39,1578.12 280.20,1574.63 280.20,1570.55 278.04,1569.00 280.20,1567.45 280.20,1563.37" fill="#000"/>
<polygon points="283.39,1563.88 292.61,1563.88 295.80,1567.37 295.80,1571.45 297.96,1573.00 295.80,1574.55 295.80,1578.63 292.61,1582.12 283.39,1582.12 280.20,1578.63 280.20,1574.55 278.04,1573.00 280.20,1571.45 280.20,1567.37" fill="#000"/>
<polygon points="283.39,1620.38 292.61,1620.38 295.80,1623.87 295.80,1627.95 297.96,1629.50 295.80,1631.05 295.80,1635.13 292.61,1638.62 283.39,1638.62 280.20,1635.13 280.20,1631.05 278.04,1629.50 280.20,1627.95 280.20,1623.87" fill="#000"/>
<polygon points="283.39,1624.38 292.61,1624.38 295.80,1627.87 295.80,1631.95 297.96,1633.50 295.80,1635.05 295.80,1639.13 292.61,1642.62 283.39,1642.62 280.20,1639.13 280.20,1635.05 278.04,1633.50 280.20,1631.95 280.20,1627.87" fill="#000"/>
<polygon points="283.39,1643.88 292.61,1643.88 295.80,1647.37 295.80,1651.45 297.96,1653.00 295.80,1654.55 295.80,1658.63 292.61,1662.12 283.39,1662.12 280.20,1658.63 280.20,1654.55 278.04,1653.00 280.20,1651.45 280.20,1647.37" fill="#000"/>
<polygon points="283.39,1649.88 292.61,1649.88 295.80,1653.37 295.80,1657.45 297.96,1659.00 295.80,1660.55 295.80,1664.63 292.61,1668.12 283.39,1668.12 280.20,1664.63 280.20,1660.55 278.04,1659.00 280.20,1657.45 280.20,1653.37" fill="#000"/>
<polygon points="283.39,1679.88 292.61,1679.88 295.80,1683.37 295.80,1687.45 297.96,1689.00 295.80,1690.55 295.80,1694.63 292.61,1698.12 283.39,1698.12 280.20,1694.63 280.20,1690.55 278.04,1689.00 280.20,1687.45 280.20,1683.37" fill="#000"/>
<polygon points="283.39,1690.38 292.61,1690.38 295.80,1693.87 295.80,1697.95 297.96,1699.50 295.80,1701.05 295.80,1705.13 292.61,1708.62 283.39,1708.62 280.20,1705.13 280.20,1701.05 278.04,1699.50 280.20,1697.95 280.20,1693.87" fill="#000"/>
<polygon points="283.39,1715.38 292.61,1715.38 295.80,1718.87 295.80,1722.95 297.96,1724.50 295.80,1726.05 295.80,1730.13 292.61,1733.62 283.39,1733.62 280.20,1730.13 280.20,1726.05 278.04,1724.50 280.20,1722.95 280.20,1718.87" fill="#000"/>
<polygon points="283.39,1720.88 292.61,1720.88 295.80,1724.37 295.80,1728.45 297.96,1730.00 295.80,1731.55 295.80,1735.63 292.61,1739.12 283.39,1739.12 280.20,1735.63 280.20,1731.55 278.04,1730.00 280.20,1728.45 280.20,1724.37" fill="#000"/>
<polygon points="283.39,1728.38 292.61,1728.38 295.80,1731.87 295.80,1735.95 297.96,1737.50 295.80,1739.05 295.80,1743.13 292.61,1746.62 283.39,1746.62 280.20,1743.13 280.20,1739.05 278.04,1737.50 280.20,1735.95 280.20,1731.87" fill="#000"/>
<polygon points="283.39,1752.88 292.61,1752.88 295.80,1756.37 295.80,1760.45 297.96,1762.00 295.80,1763.55 295.80,1767.63 292.61,1771.12 283.39,1771.12 280.20,1767.63 280.20,1763.55 278.04,1762.00 280.20,1760.45 280.20,1756.37" fill="#000"/>
<polygon points="435.34,1783.14 444.46,1783.14 447.70,1787.31 447.70,1794.69 444.46,1798.86 435.34,1798.86 432.10,1794.69 432.10,1787.31" fill="#fff" stroke="#000" stroke-width="2.7" stroke-linejoin="round"/>
<polygon points="435.34,1781.14 444.46,1781.14 447.70,1785.31 447.70,1792.69 444.46,1796.86 435.34,1796.86 432.10,1792.69 432.10,1785.31" fill="#fff" stroke="#000" stroke-width="2.7" stroke-linejoin="round"/>
<polygon points="435.34,1724.14 444.46,1724.14 447.70,1728.31 447.70,1735.69 444.46,1739.86 435.34,1739.86 432.10,1735.69 432.10,1728.31" fill="#fff" stroke="#000" stroke-width="2.7" stroke-linejoin="round"/>
<polygon points="435.34,1699.84 444.46,1699.84 447.70,1704.01 447.70,1711.39 444.46,1715.56 435.34,1715.56 432.10,1711.39 432.10,1704.01" fill="#fff" stroke="#000" stroke-width="2.7" stroke-linejoin="round"/>
<polygon points="435.34,1693.64 444.46,1693.64 447.70,1697.81 447.70,1705.19 444.46,1709.36 435.34,1709.36 432.10,1705.19 432.10,1697.81" fill="#fff" stroke="#000" stroke-width="2.7" stroke-linejoin="round"/>
<polygon points="435.34,1686.84 444.46,1686.84 447.70,1691.01 447.70,1698.39 444.46,1702.56 435.34,1702.56 432.10,1698.39 432.10,1691.01" fill="#fff" stroke="#000" stroke-width="2.7" stroke-linejoin="round"/>
<polygon points="435.34,1651.64 444.46,1651.64 447.70,1655.81 447.70,1663.19 444.46,1667.36 435.34,1667.36 432.10,1663.19 432.10,1655.81" fill="#fff" stroke="#000" stroke-width="2.7" stroke-linejoin="round"/>
<polygon points="435.34,1627.34 444.46,1627.34 447.70,1631.51 447.70,1638.89 444.46,1643.06 435.34,1643.06 432.10,1638.89 432.10,1631.51" fill="#fff" stroke="#000" stroke-width="2.7" stroke-linejoin="round"/>
<polygon points="435.34,1614.24 444.46,1614.24 447.70,1618.41 447.70,1625.79 444.46,1629.96 435.34,1629.96 432.10,1625.79 432.10,1618.41" fill="#fff" stroke="#000" stroke-width="2.7" stroke-linejoin="round"/>
<polygon points="435.34,1578.24 444.46,1578.24 447.70,1582.41 447.70,1589.79 444.46,1593.96 435.34,1593.96 432.10,1589.79 432.10,1582.41" fill="#fff" stroke="#000" stroke-width="2.7" stroke-linejoin="round"/>
<polygon points="435.34,1569.94 444.46,1569.94 447.70,1574.11 447.70,1581.49 444.46,1585.66 435.34,1585.66 432.10,1581.49 432.10,1574.11" fill="#fff" stroke="#000" stroke-width="2.7" stroke-linejoin="round"/>
<polygon points="435.34,1558.84 444.46,1558.84 447.70,1563.01 447.70,1570.39 444.46,1574.56 435.34,1574.56 432.10,1570.39 432.10,1563.01" fill="#fff" stroke="#000" stroke-width="2.7" stroke-linejoin="round"/>
<polygon points="435.34,1547.84 444.46,1547.84 447.70,1552.01 447.70,1559.39 444.46,1563.56 435.34,1563.56 432.10,1559.39 432.10,1552.01" fill="#fff" stroke="#000" stroke-width="2.7" stroke-linejoin="round"/>
<polygon points="435.34,1527.74 444.46,1527.74 447.70,1531.91 447.70,1539.29 444.46,1543.46 435.34,1543.46 432.10,1539.29 432.10,1531.91" fill="#fff" stroke="#000" stroke-width="2.7" stroke-linejoin="round"/>
<polygon points="580.66,1469.10 601.34,1469.10 601.34,1472.98 593.44,1487.53 588.56,1487.53 580.66,1472.98" fill="#000"/>
<polygon points="580.66,1490.80 601.34,1490.80 601.34,1494.68 593.44,1509.23 588.56,1509.23 580.66,1494.68" fill="#000"/>
<polygon points="580.66,1497.70 601.34,1497.70 601.34,1501.58 593.44,1516.13 588.56,1516.13 580.66,1501.58" fill="#000"/>
<polygon points="580.66,1552.70 601.34,1552.70 601.34,1556.58 593.44,1571.13 588.56,1571.13 580.66,1556.58" fill="#000"/>
<polygon points="580.66,1604.30 601.34,1604.30 601.34,1608.18 593.44,1622.73 588.56,1622.73 580.66,1608.18" fill="#000"/>
<polygon points="580.66,1623.30 601.34,1623.30 601.34,1627.18 593.44,1641.73 588.56,1641.73 580.66,1627.18" fill="#000"/>
<polygon points="580.66,1630.00 601.34,1630.00 601.34,1633.88 593.44,1648.43 588.56,1648.43 580.66,1633.88" fill="#000"/>
<polygon points="580.66,1640.80 601.34,1640.80 601.34,1644.68 593.44,1659.23 588.56,1659.23 580.66,1644.68" fill="#000"/>
<polygon points="580.66,1651.10 601.34,1651.10 601.34,1654.98 593.44,1669.53 588.56,1669.53 580.66,1654.98" fill="#000"/>
<polygon points="580.66,1661.50 601.34,1661.50 601.34,1665.38 593.44,1679.93 588.56,1679.93 580.66,1665.38" fill="#000"/>
<polygon points="580.66,1670.50 601.34,1670.50 601.34,1674.38 593.44,1688.93 588.56,1688.93 580.66,1674.38" fill="#000"/>
<polygon points="580.66,1694.00 601.34,1694.00 601.34,1697.88 593.44,1712.43 588.56,1712.43 580.66,1697.88" fill="#000"/>
<polygon points="580.66,1710.60 601.34,1710.60 601.34,1714.48 593.44,1729.03 588.56,1729.03 580.66,1714.48" fill="#000"/>
<polygon points="580.66,1731.40 601.34,1731.40 601.34,1735.28 593.44,1749.83 588.56,1749.83 580.66,1735.28" fill="#000"/>
<polygon points="580.66,1758.40 601.34,1758.40 601.34,1762.28 593.44,1776.83 588.56,1776.83 580.66,1762.28" fill="#000"/>
<polygon points="733.18,1812.30 751.42,1812.30 742.58,1796.39" fill="#fff" stroke="#000" stroke-width="2.7" stroke-linejoin="round"/>
<polygon points="733.18,1775.50 751.42,1775.50 742.58,1759.59" fill="#fff" stroke="#000" stroke-width="2.7" stroke-linejoin="round"/>
<polygon points="733.18,1740.50 751.42,1740.50 742.58,1724.59" fill="#fff" stroke="#000" stroke-width="2.7" stroke-linejoin="round"/>
<polygon points="733.18,1730.80 751.42,1730.80 742.58,1714.89" fill="#fff" stroke="#000" stroke-width="2.7" stroke-linejoin="round"/>
<polygon points="733.18,1702.40 751.42,1702.40 742.58,1686.49" fill="#fff" stroke="#000" stroke-width="2.7" stroke-linejoin="round"/>
<polygon points="733.18,1683.70 751.42,1683.70 742.58,1667.79" fill="#fff" stroke="#000" stroke-width="2.7" stroke-linejoin="round"/>
<polygon points="733.18,1678.90 751.42,1678.90 742.58,1662.99" fill="#fff" stroke="#000" stroke-width="2.7" stroke-linejoin="round"/>
<polygon points="733.18,1672.00 751.42,1672.00 742.58,1656.09" fill="#fff" stroke="#000" stroke-width="2.7" stroke-linejoin="round"/>
<polygon points="733.18,1656.50 751.42,1656.50 742.58,1640.59" fill="#fff" stroke="#000" stroke-width="2.7" stroke-linejoin="round"/>
<polygon points="733.18,1642.20 751.42,1642.20 742.58,1626.29" fill="#fff" stroke="#000" stroke-width="2.7" stroke-linejoin="round"/>
<polygon points="734.18,1603.40 752.42,1603.40 743.58,1587.49" fill="#fff" stroke="#000" stroke-width="2.7" stroke-linejoin="round"/>
<polygon points="733.18,1565.00 751.42,1565.00 742.58,1549.09" fill="#fff" stroke="#000" stroke-width="2.7" stroke-linejoin="round"/>
<polygon points="733.18,1516.20 751.42,1516.20 742.58,1500.29" fill="#fff" stroke="#000" stroke-width="2.7" stroke-linejoin="round"/>
<polygon points="733.18,1476.00 751.42,1476.00 742.58,1460.09" fill="#fff" stroke="#000" stroke-width="2.7" stroke-linejoin="round"/>
<polygon points="733.18,1456.70 751.42,1456.70 742.58,1440.79" fill="#fff" stroke="#000" stroke-width="2.7" stroke-linejoin="round"/>
<line x1="289.60" y1="1559.60" x2="289.60" y2="1659.30" stroke="#000" stroke-width="2.6" />
<line x1="265.70" y1="1559.60" x2="312.20" y2="1559.60" stroke="#000" stroke-width="2.8" stroke-linecap="round"/>
<line x1="268.50" y1="1659.30" x2="312.20" y2="1659.30" stroke="#000" stroke-width="2.8" stroke-linecap="round"/>
<line x1="440.80" y1="1608.00" x2="440.80" y2="1697.10" stroke="#000" stroke-width="2.6" />
<line x1="416.60" y1="1608.00" x2="463.10" y2="1608.00" stroke="#000" stroke-width="2.8" stroke-linecap="round"/>
<line x1="416.60" y1="1697.10" x2="463.10" y2="1697.10" stroke="#000" stroke-width="2.8" stroke-linecap="round"/>
<line x1="592.30" y1="1597.40" x2="592.30" y2="1680.90" stroke="#000" stroke-width="2.6" />
<line x1="570.20" y1="1597.40" x2="614.10" y2="1597.40" stroke="#000" stroke-width="2.8" stroke-linecap="round"/>
<line x1="570.20" y1="1680.90" x2="614.10" y2="1680.90" stroke="#000" stroke-width="2.8" stroke-linecap="round"/>
<line x1="743.20" y1="1548.70" x2="743.20" y2="1688.80" stroke="#000" stroke-width="2.6" />
<line x1="721.10" y1="1548.70" x2="765.10" y2="1548.70" stroke="#000" stroke-width="2.8" stroke-linecap="round"/>
<line x1="721.10" y1="1688.80" x2="765.10" y2="1688.80" stroke="#000" stroke-width="2.8" stroke-linecap="round"/>
<path d="M139.70 1332.00V1848.00H892.00" fill="none" stroke="#000" stroke-width="3.1"/>
<line x1="131.00" y1="1402.70" x2="139.70" y2="1402.70" stroke="#000" stroke-width="2.5" stroke-linecap="round"/>
<text x="116.80" y="1409.70" font-size="26.3" text-anchor="end" letter-spacing="-0.2">30</text>
<line x1="131.00" y1="1541.20" x2="139.70" y2="1541.20" stroke="#000" stroke-width="2.5" stroke-linecap="round"/>
<text x="116.80" y="1550.20" font-size="26.3" text-anchor="end" letter-spacing="-0.2">20</text>
<line x1="131.00" y1="1681.00" x2="139.70" y2="1681.00" stroke="#000" stroke-width="2.5" stroke-linecap="round"/>
<text x="116.80" y="1690.20" font-size="26.3" text-anchor="end" letter-spacing="-0.2">10</text>
<line x1="131.00" y1="1821.30" x2="139.70" y2="1821.30" stroke="#000" stroke-width="2.5" stroke-linecap="round"/>
<text x="116.80" y="1830.70" font-size="26.3" text-anchor="end" letter-spacing="-0.2">0</text>
<text x="295.00" y="1356.00" font-size="38.2" font-weight="bold" textLength="422.20" lengthAdjust="spacingAndGlyphs" >Caloric Intake (Kcal/Kg)</text>
<text transform="translate(58.90,1650.30) rotate(-90) scale(0.8412,1)" x="-1.58 27.16 47.62 69.44 79.88 88.52 120.91" y="0" font-size="35.5" font-weight="bold" stroke="#000" stroke-width="1.3" stroke-linejoin="round">Kcal/Kg</text>
<text transform="translate(0,1899.10) scale(0.8315,1)" x="275.40 307.05 328.77 350.28 362.78 380.78 405.80" y="0" font-size="35" font-weight="bold" >Control</text>
<text transform="translate(0,1899.10) scale(0.8043,1)" x="502.77 532.89 557.76" y="0" font-size="35" font-weight="bold" >EPA</text>
<text transform="translate(0,1899.10) scale(0.8402,1)" x="639.40 670.11 700.31" y="0" font-size="35" font-weight="bold" >HMB</text>
<text transform="translate(0,1899.10) scale(0.8366,1)" x="796.65 826.67 858.06 882.98 902.61 937.66 961.74" y="0" font-size="35" font-weight="bold" >HMB+EPA</text>
</g>
</svg>
</body>
</html>
